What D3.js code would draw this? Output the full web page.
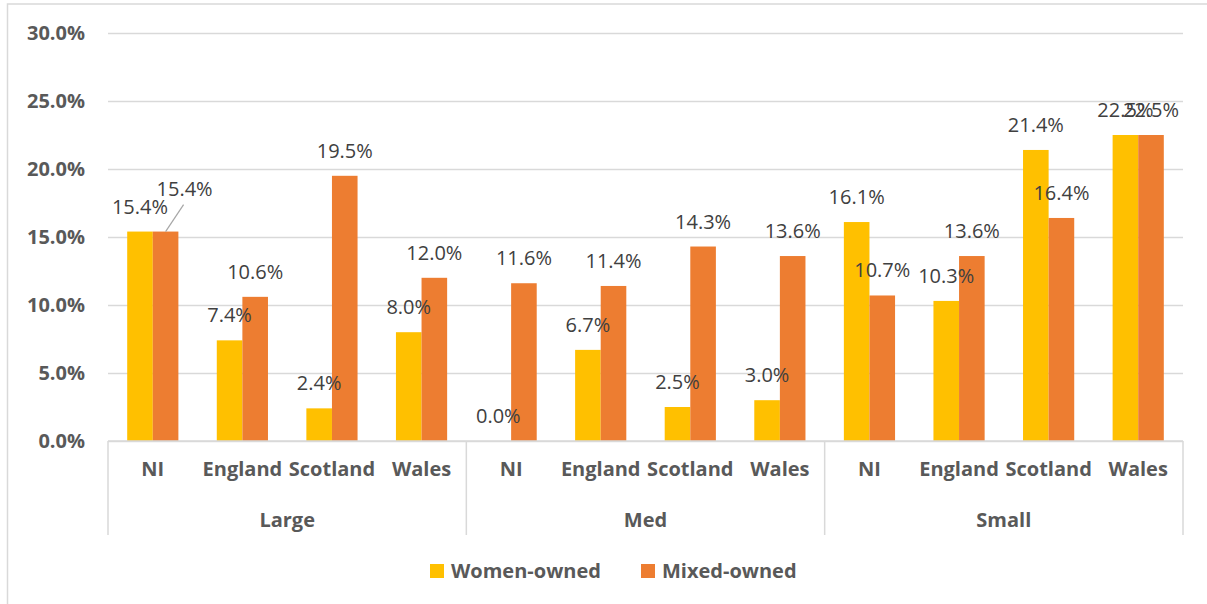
<!DOCTYPE html>
<html>
<head>
<meta charset="utf-8">
<script src="https://cdn.jsdelivr.net/npm/d3@7"></script>
<style>
  html, body { margin: 0; padding: 0; background: #fff; }
  svg { display: block; }
  text { font-family: "Open Sans", "Liberation Sans", sans-serif; }
</style>
</head>
<body>
<svg id="chart" width="1207" height="604"></svg>
<script>
// Business size groups and the nations within each group
const groups = ["Large", "Med", "Small"];
const nations = ["NI", "England", "Scotland", "Wales"];
const seriesNames = ["Women-owned", "Mixed-owned"];

// Share of businesses (%), listed group by group in nation order
const womenOwned = [15.4, 7.4, 2.4, 8.0,   0.0, 6.7, 2.5, 3.0,   16.1, 10.3, 21.4, 22.5];
const mixedOwned = [15.4, 10.6, 19.5, 12.0, 11.6, 11.4, 14.3, 13.6, 10.7, 13.6, 16.4, 22.5];

const yTicks = [0, 5, 10, 15, 20, 25, 30];

const colors = { "Women-owned": "#FFC000", "Mixed-owned": "#ED7D31" };
const gridColor = "#d9d9d9";
const axisText = "#595959";
const labelText = "#404040";
const fontSize = 20;

const svg = d3.select("#chart");
const W = 1207, H = 604;
const plot = { left: 108, right: 1183, top: 33, bottom: 441 };

// Outer chart frame
svg.append("rect")
  .attr("x", 7.5).attr("y", 4)
  .attr("width", W + 100).attr("height", H + 100)
  .attr("fill", "none").attr("stroke", gridColor).attr("stroke-width", 1.5);

// Build the flat list of category slots
const slots = [];
groups.forEach(g => nations.forEach(n => slots.push({ key: g + "|" + n, group: g, nation: n })));
slots.forEach((s, i) => { s.women = womenOwned[i]; s.mixed = mixedOwned[i]; });

const x = d3.scaleBand()
  .domain(slots.map(s => s.key))
  .range([plot.left, plot.right])
  .padding(0);

const xInner = d3.scaleBand()
  .domain(seriesNames)
  .range([0, x.bandwidth()])
  .paddingInner(0)
  .paddingOuter(0.75);

const y = d3.scaleLinear().domain([0, 30]).range([plot.bottom, plot.top]);

// Horizontal gridlines and value axis
const yAxis = svg.append("g")
  .attr("transform", `translate(${plot.left},0)`)
  .call(d3.axisLeft(y).tickValues(yTicks).tickSize(-(plot.right - plot.left)).tickPadding(23)
    .tickFormat(d => d.toFixed(1) + "%"));
yAxis.select(".domain").remove();
yAxis.selectAll(".tick line").attr("stroke", gridColor).attr("stroke-width", 1.5);
yAxis.selectAll(".tick text")
  .attr("fill", axisText).attr("font-size", fontSize).attr("font-weight", "bold")
  .attr("font-family", "'Open Sans', sans-serif");

// Bars
const barData = [];
slots.forEach(s => {
  barData.push({ slot: s, series: "Women-owned", value: s.women });
  barData.push({ slot: s, series: "Mixed-owned", value: s.mixed });
});

svg.append("g").selectAll("rect")
  .data(barData)
  .join("rect")
  .attr("x", d => x(d.slot.key) + xInner(d.series))
  .attr("width", xInner.bandwidth())
  .attr("y", d => y(d.value))
  .attr("height", d => y(0) - y(d.value))
  .attr("fill", d => colors[d.series]);

// Category axis: baseline, group separators, nation and group labels
const catAxis = svg.append("g");
catAxis.append("line")
  .attr("x1", plot.left).attr("x2", plot.right)
  .attr("y1", plot.bottom).attr("y2", plot.bottom)
  .attr("stroke", gridColor).attr("stroke-width", 1.5);

const groupEdges = groups.map(g => x(g + "|" + nations[0])).concat([plot.right]);
catAxis.selectAll("line.sep")
  .data(groupEdges)
  .join("line")
  .attr("class", "sep")
  .attr("x1", d => d).attr("x2", d => d)
  .attr("y1", plot.bottom).attr("y2", 535)
  .attr("stroke", gridColor).attr("stroke-width", 1.5);

const xAxis = svg.append("g")
  .attr("transform", `translate(0,${plot.bottom})`)
  .call(d3.axisBottom(x).tickSize(0).tickPadding(21).tickFormat(k => k.split("|")[1]));
xAxis.select(".domain").remove();
xAxis.selectAll(".tick text")
  .attr("fill", axisText).attr("font-size", fontSize).attr("font-weight", "bold")
  .attr("font-family", "'Open Sans', sans-serif");

catAxis.selectAll("text.group")
  .data(groups)
  .join("text")
  .attr("class", "group")
  .attr("x", (g, i) => (groupEdges[i] + groupEdges[i + 1]) / 2)
  .attr("y", 520)
  .attr("dy", "0.35em")
  .attr("text-anchor", "middle")
  .attr("fill", axisText).attr("font-size", fontSize).attr("font-weight", "bold")
  .text(g => g);

// Value labels above each bar; one label is lifted aside with a leader line
const labelOffset = 25;
const moved = { "Large|NI|Mixed-owned": { dx: 19, dy: -18 } };

const labels = svg.append("g");
barData.forEach(d => {
  const cx = x(d.slot.key) + xInner(d.series) + xInner.bandwidth() / 2;
  const top = y(d.value);
  const m = moved[d.slot.key + "|" + d.series];
  let lx = cx, ly = top - labelOffset;
  if (m) {
    lx += m.dx; ly += m.dy;
    labels.append("line")
      .attr("x1", cx).attr("y1", top)
      .attr("x2", lx - 1).attr("y2", ly + 16)
      .attr("stroke", "#a6a6a6").attr("stroke-width", 1.2);
  }
  labels.append("text")
    .attr("x", lx).attr("y", ly)
    .attr("dy", "0.35em")
    .attr("text-anchor", "middle")
    .attr("fill", labelText).attr("font-size", fontSize)
    .text(d.value.toFixed(1) + "%");
});

// Legend
const legend = svg.append("g").attr("transform", "translate(430,571)");
const legendX = [0, 211];
seriesNames.forEach((name, i) => {
  const g = legend.append("g").attr("transform", `translate(${legendX[i]},0)`);
  g.append("rect").attr("x", 0).attr("y", -7).attr("width", 14).attr("height", 14).attr("fill", colors[name]);
  g.append("text").attr("x", 21).attr("y", 0).attr("dy", "0.35em")
    .attr("fill", axisText).attr("font-size", fontSize).attr("font-weight", "bold")
    .text(name);
});
</script>
</body>
</html>
